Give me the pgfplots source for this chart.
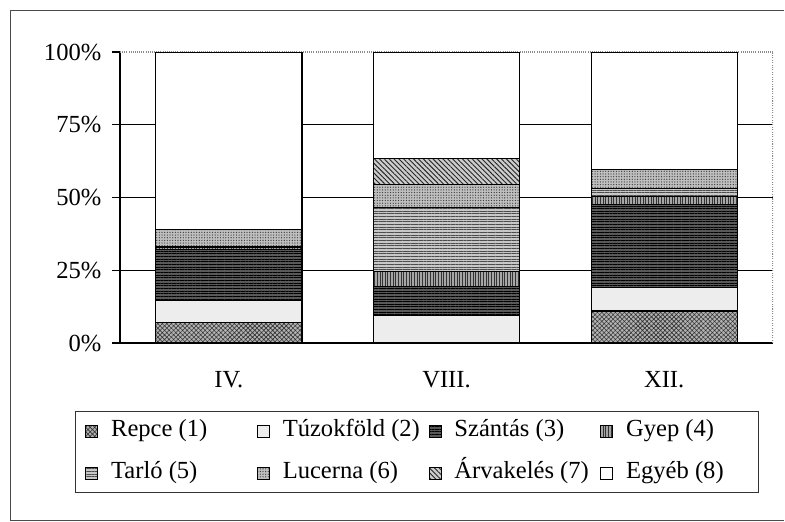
\documentclass[border=0pt]{standalone}
\usepackage{fontspec}
\setmainfont{Liberation Serif}
\usepackage{pgfplots}
\pgfplotsset{compat=1.18}
\usetikzlibrary{patterns,patterns.meta}

% 1 px of the reference = 0.75bp
\pgfplotsset{
  bar/.style={draw=black, line width=0.8pt},
}

\begin{document}
\begin{tikzpicture}[font=\fontsize{18.5}{22}\selectfont]
  \useasboundingbox (-90bp,-134.25bp) rectangle (498.75bp,257.25bp);
  \draw[black!70, line width=0.7pt]
    (498bp,249.75bp) -- (-82.5bp,249.75bp) -- (-82.5bp,-133bp) -- (498bp,-133bp);
  \begin{axis}[
    scale only axis,
    width=489.75bp, height=218.25bp,
    ybar stacked,
    bar width=0.672,
    xmin=-0.5, xmax=2.5,
    ymin=0, ymax=100,
    axis lines*=left,
    axis line style={black, line width=0.8pt},
    xtick={0,1,2},
    xticklabels={IV., VIII., XII.},
    x tick style={draw=none},
    minor xtick={-0.5,0.5,1.5,2.5},
    minor x tick style={black, line width=0.8pt},
    minor tick length=6bp,
    major tick length=6bp,
    tick align=outside,
    xtick pos=bottom, ytick pos=left,
    ytick={0,25,50,75},
    extra y ticks={100},
    yticklabel={\pgfmathprintnumber{\tick}\%},
    extra y tick style={grid style={black!45, densely dotted, line width=0.8pt}},
    ymajorgrids,
    grid style={black, line width=0.6pt},
    y tick style={black, line width=0.8pt},
    /pgf/number format/assume math mode=true,
    xticklabel style={yshift=-11.5bp},
    yticklabel style={xshift=-4.5bp},
    legend columns=4,
    legend cell align=left,
    legend image code/.code={\draw[#1, line width=0.5pt] (0bp,-4.5bp) rectangle (9bp,4.5bp);},
    legend style={
      at={(0.455,-0.234)}, anchor=north,
      draw=black!80, line width=0.7pt,
      inner xsep=7.5bp, inner ysep=6bp,
      row sep=14bp,
      nodes={inner sep=0pt, text height=13bp, text depth=4.5bp},
      /tikz/every odd column/.append style={column sep=9.75bp},
      /tikz/every even column/.append style={column sep=0bp},
    },
  ]
    \draw[black!45, densely dotted, line width=0.8pt]
      (rel axis cs:1,0) -- (rel axis cs:1,1);

    % Repce (1)
    \addplot[bar, fill=black!30, postaction={pattern={Hatch[angle=45,distance=2.4pt,line width=0.45pt]}, pattern color=black!80}]
      coordinates {(0,7) (1,0) (2,11)};
    \addlegendentry{\makebox[109.5bp][l]{Repce (1)}}
    % Túzokföld (2)
    \addplot[bar, fill=black!7]
      coordinates {(0,7.5) (1,9.5) (2,8)};
    \addlegendentry{\makebox[109.5bp][l]{Túzokföld (2)}}
    % Szántás (3)
    \addplot[bar, fill=black!65, postaction={pattern={Lines[angle=0,distance=2pt,line width=0.5pt]}, pattern color=black}]
      coordinates {(0,17.5) (1,10) (2,28.5)};
    \addlegendentry{\makebox[109.5bp][l]{Szántás (3)}}
    % Gyep (4)
    \addplot[bar, fill=black!35, postaction={pattern={Lines[angle=90,distance=2pt,line width=0.6pt]}, pattern color=black!80}]
      coordinates {(0,1) (1,5) (2,3)};
    \addlegendentry{\makebox[92bp][l]{Gyep (4)}}
    % Tarló (5)
    \addplot[bar, fill=black!22, postaction={pattern={Lines[angle=0,distance=2pt,line width=0.6pt]}, pattern color=black!70}]
      coordinates {(0,0) (1,22) (2,2.5)};
    \addlegendentry{\makebox[109.5bp][l]{Tarló (5)}}
    % Lucerna (6)
    \addplot[bar, fill=black!25, postaction={pattern={Dots[distance=2pt,radius=0.5pt]}, pattern color=black!75}]
      coordinates {(0,6) (1,8) (2,6.5)};
    \addlegendentry{\makebox[109.5bp][l]{Lucerna (6)}}
    % Árvakelés (7)
    \addplot[bar, fill=black!20, postaction={pattern={Lines[angle=-45,distance=2.6pt,line width=0.7pt]}, pattern color=black!85}]
      coordinates {(0,0) (1,9) (2,0)};
    \addlegendentry{\makebox[109.5bp][l]{Árvakelés (7)}}
    % Egyéb (8)
    \addplot[bar, fill=white]
      coordinates {(0,61) (1,36.5) (2,40.5)};
    \addlegendentry{\makebox[92bp][l]{Egyéb (8)}}
  \end{axis}
\end{tikzpicture}
\end{document}
